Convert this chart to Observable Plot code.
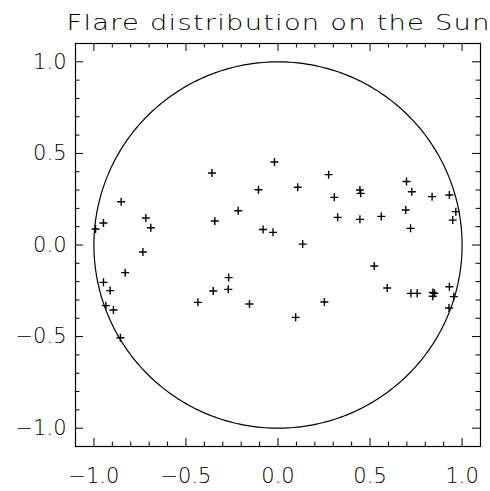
<!DOCTYPE html>
<html><head><meta charset="utf-8">
<script src="https://cdn.jsdelivr.net/npm/d3@7"></script>
<script src="https://cdn.jsdelivr.net/npm/@observablehq/plot@0.6"></script>
<style>body{margin:0;background:#fff}</style>
</head><body><div id="chart"></div>
<script>
const titleText = "Flare distribution on the Sun";
const flareX = [-0.852, -0.948, -0.991, -0.718, -0.691, -0.734, -0.830, -0.948, -0.912, -0.935, -0.894, -0.856, -0.435,
  -0.359, -0.019, 0.275, -0.106, 0.107, 0.306, -0.216, -0.343, -0.081, -0.027, 0.324, 0.134, -0.268, -0.352, -0.270, -0.155, 0.252, 0.096,
  0.445, 0.449, 0.698, 0.727, 0.837, 0.931, 0.966, 0.949, 0.445, 0.561, 0.694, 0.720, 0.523, 0.593, 0.722, 0.756, 0.841, 0.850, 0.841, 0.931, 0.955, 0.929];
const flareY = [0.236, 0.120, 0.087, 0.147, 0.094, -0.038, -0.151, -0.204, -0.249, -0.331, -0.355, -0.506, -0.313,
  0.393, 0.453, 0.384, 0.302, 0.315, 0.260, 0.187, 0.131, 0.085, 0.069, 0.151, 0.005, -0.178, -0.251, -0.242, -0.322, -0.311, -0.395,
  0.300, 0.282, 0.347, 0.291, 0.264, 0.273, 0.182, 0.136, 0.140, 0.156, 0.191, 0.091, -0.115, -0.235, -0.264, -0.264, -0.259, -0.264, -0.280, -0.228, -0.282, -0.344];
const majorTicks = [-1.0, -0.5, 0.0, 0.5, 1.0];
const minorTicks = [-0.9, -0.8, -0.7, -0.6, -0.4, -0.3, -0.2, -0.1, 0.1, 0.2, 0.3, 0.4, 0.6, 0.7, 0.8, 0.9];
const axisDomain = [-1.1, 1.1];
const sunRadius = 1;

const flares = flareX.map((x, i) => ({x, y: flareY[i]}));
const angles = d3.range(0, 361, 1);
const limb = angles.map(a => ({x: sunRadius * Math.cos(a * Math.PI / 180), y: sunRadius * Math.sin(a * Math.PI / 180)}));

const W = 490, H = 491, mL = 75, mR = 10, mT = 43, mB = 45;
const iw = W - mL - mR, ih = H - mT - mB;
const majLen = 8, minLen = 4.5;
const fmt = d3.format(".1f");
const plusSymbol = {draw(ctx) { const a = 4; ctx.moveTo(-a, 0); ctx.lineTo(a, 0); ctx.moveTo(0, -a); ctx.lineTo(0, a); }};

const tickSet = (vals, len) => [
  Plot.tickX(vals, {x: d => d, insetTop: ih - len, stroke: "#000"}),
  Plot.tickX(vals, {x: d => d, insetBottom: ih - len, stroke: "#000"}),
  Plot.tickY(vals, {y: d => d, insetRight: iw - len, stroke: "#000"}),
  Plot.tickY(vals, {y: d => d, insetLeft: iw - len, stroke: "#000"})
];

const chart = Plot.plot({
  width: W, height: H,
  marginLeft: mL, marginRight: mR, marginTop: mT, marginBottom: mB,
  x: {domain: axisDomain, label: null},
  y: {domain: axisDomain, label: null},
  style: {fontFamily: "'DejaVu Sans', sans-serif", fontSize: "21px", fontWeight: 200, color: "#000", background: "#fff"},
  marks: [
    Plot.axisX(majorTicks, {tickSize: 0, tickPadding: 22, tickFormat: fmt, fontSize: 21, label: null}),
    Plot.axisY(majorTicks, {tickSize: 0, tickPadding: 9, tickFormat: fmt, fontSize: 21, label: null}),
    ...tickSet(majorTicks, majLen),
    ...tickSet(minorTicks, minLen),
    Plot.line(limb, {x: "x", y: "y", stroke: "#000", strokeWidth: 1.2}),
    Plot.dot(flares, {x: "x", y: "y", symbol: plusSymbol, fill: "none", stroke: "#000", strokeWidth: 1.4}),
    Plot.frame({stroke: "#000", strokeWidth: 1.2}),
    Plot.text([titleText], {frameAnchor: "top", dy: -20, lineAnchor: "middle", fontSize: 21})
  ]
});
document.getElementById("chart").appendChild(chart);
const t = Array.from(chart.querySelectorAll("text")).find(e => e.textContent === titleText);
if (t) {
  const len = t.getComputedTextLength();
  const target = 423, sx = 1.3;
  const ls = (target / sx - len) / (titleText.length - 1);
  t.setAttribute("letter-spacing", ls.toFixed(2));
  t.setAttribute("dx", (ls / 2).toFixed(2));
  t.setAttribute("transform", (t.getAttribute("transform") || "") + ` scale(${sx},1)`);
}
</script>
</body></html>
